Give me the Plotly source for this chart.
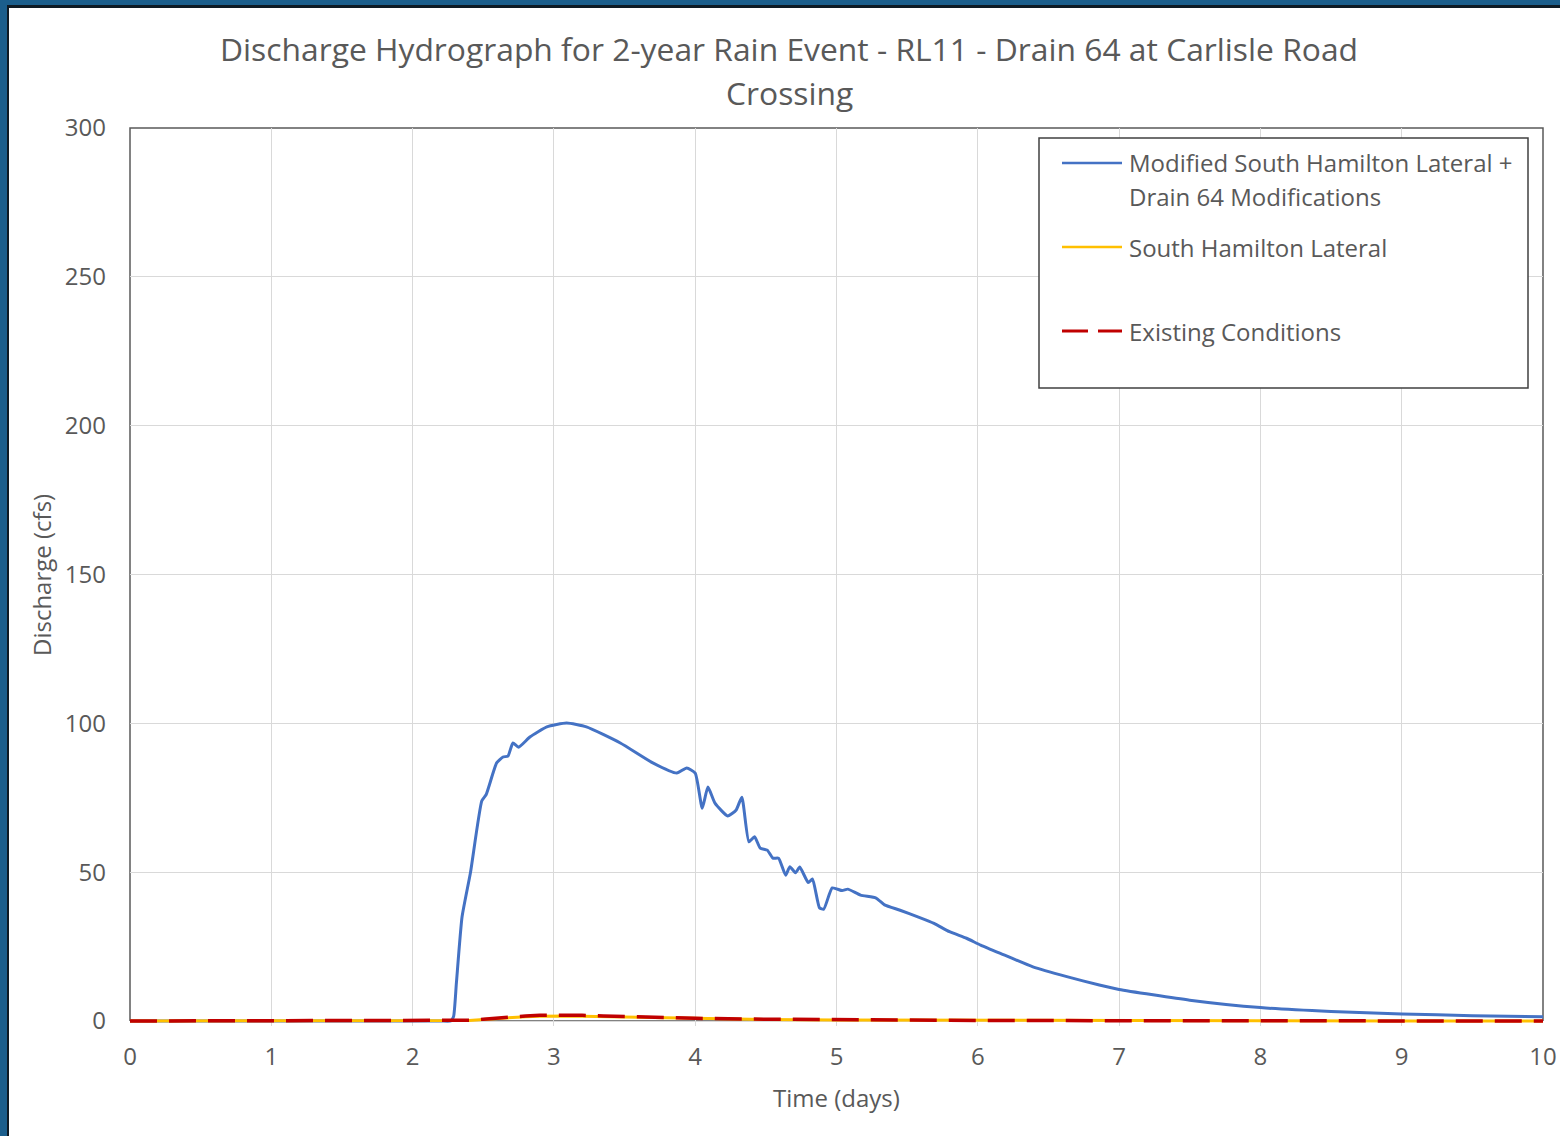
import plotly.graph_objects as go

# Time (days) and discharge (cfs) for each scenario
t_modified = [0, 1.0, 2.0, 2.2, 2.27, 2.29, 2.31, 2.35, 2.41, 2.49, 2.52, 2.595, 2.64, 2.675,
              2.71, 2.75, 2.83, 2.95, 3.09, 3.23, 3.47, 3.70, 3.87, 3.94, 4.00, 4.05,
              4.09, 4.14, 4.23, 4.29, 4.33, 4.38, 4.42, 4.46, 4.51, 4.55, 4.59, 4.64,
              4.67, 4.71, 4.74, 4.80, 4.83, 4.88, 4.91, 4.97, 5.04, 5.08, 5.17, 5.28,
              5.34, 5.45, 5.58, 5.69, 5.80, 5.92, 6.02, 6.16, 6.39, 6.63, 6.86, 7.0,
              7.5, 8.0, 8.5, 9.0, 9.5, 10]
q_modified = [0, 0, 0, 0, 0, 1.5, 12.8, 35, 50, 74, 76, 86.7, 88.7, 89,
              93.4, 92, 95.4, 98.8, 100.1, 98.8, 93.4, 86.7, 83.3, 85, 83.3, 71.5,
              78.6, 73.2, 68.9, 70.9, 75.2, 60.2, 61.9, 58.1, 57.4, 54.7, 54.7, 49,
              51.8, 49.8, 51.7, 46.5, 47.7, 38, 37.6, 44.7, 43.8, 44.3, 42.3, 41.3,
              39, 37.2, 34.9, 32.8, 30, 27.8, 25.5, 22.7, 18.2, 14.9, 12.1, 10.6,
              7.0, 4.5, 3.2, 2.35, 1.8, 1.45]

t_lateral = [0, 2.3, 2.4, 2.5, 2.6, 2.7, 2.8, 2.9, 3.0, 3.1, 3.2, 3.35, 3.5, 3.75, 4.0,
             4.5, 5.0, 6.0, 7.0, 8.0, 9.0, 10]
q_lateral = [0, 0, 0.2, 0.5, 0.9, 1.2, 1.45, 1.6, 1.7, 1.7, 1.6, 1.45, 1.3, 1.05, 0.8,
             0.5, 0.35, 0.2, 0.1, 0.05, 0.02, 0]

t_existing = [0, 2.3, 2.4, 2.5, 2.6, 2.7, 2.8, 2.9, 3.0, 3.1, 3.2, 3.35, 3.5, 3.75, 4.0,
              4.5, 5.0, 6.0, 7.0, 8.0, 9.0, 10]
q_existing = [0, 0, 0.25, 0.6, 1.05, 1.4, 1.7, 1.9, 2.0, 2.0, 1.9, 1.7, 1.5, 1.2, 0.9,
              0.6, 0.4, 0.2, 0.1, 0.05, 0.02, 0]

series_names = ["Modified South Hamilton Lateral +", "South Hamilton Lateral",
                "Existing Conditions"]
series_name_cont = "Drain 64 Modifications"

x_ticks = [0, 1, 2, 3, 4, 5, 6, 7, 8, 9, 10]
y_ticks = [0, 50, 100, 150, 200, 250, 300]
X_MAX, Y_MAX = 10, 300

BLUE = "#4472C4"
GOLD = "#FFC000"
RED = "#C00000"
TEXT = "#595959"
FONT = "Open Sans"

W, H = 1560, 1136
L, R, T, B0 = 130, 1543, 128, 1021   # plot-area edges in pixels (B0 = y of zero)
B = 1026                             # extend a few pixels so the zero-line traces are not clipped
y_min = -(B - B0) * Y_MAX / (B0 - T)


def px(x):
    return (x - L) / (R - L)


def py(y):
    return (B - y) / (B - T)


fig = go.Figure()
fig.add_trace(go.Scatter(x=t_modified, y=q_modified, mode="lines",
                         line=dict(color=BLUE, width=3, shape="spline", smoothing=0.5),
                         name=series_names[0] + " " + series_name_cont, showlegend=False))
fig.add_trace(go.Scatter(x=t_lateral, y=q_lateral, mode="lines",
                         line=dict(color=GOLD, width=3),
                         name=series_names[1], showlegend=False))
fig.add_trace(go.Scatter(x=t_existing, y=q_existing, mode="lines",
                         line=dict(color=RED, width=3.5, dash="27px,12px"),
                         name=series_names[2], showlegend=False))

shapes = []
annotations = []

# plot-area border (left, top, right drawn with paper refs; bottom sits on the zero line)
shapes.append(dict(type="path", xref="paper", yref="paper",
                   path=f"M 0,{py(B0)} L 0,1 L 1,1 L 1,{py(B0)}",
                   line=dict(color="#595959", width=1.5), layer="between"))
shapes.append(dict(type="line", xref="paper", yref="paper", x0=0, x1=1, y0=py(B0), y1=py(B0),
                   line=dict(color="#595959", width=1.5), layer="between"))

# slide frame at the top and left edges
shapes += [
    dict(type="rect", xref="paper", yref="paper", x0=px(0), x1=px(W + 10), y0=py(0), y1=py(5),
         fillcolor="#1B5E8C", line=dict(width=0), layer="above"),
    dict(type="rect", xref="paper", yref="paper", x0=px(7), x1=px(W + 10), y0=py(5), y1=py(8),
         fillcolor="#0E1A24", line=dict(width=0), layer="above"),
    dict(type="rect", xref="paper", yref="paper", x0=px(0), x1=px(7), y0=py(0), y1=py(H + 10),
         fillcolor="#1B5E8C", line=dict(width=0), layer="above"),
    dict(type="rect", xref="paper", yref="paper", x0=px(7), x1=px(9), y0=py(5), y1=py(H + 10),
         fillcolor="#0E1A24", line=dict(width=0), layer="above"),
]

# legend box
shapes.append(dict(type="rect", xref="paper", yref="paper",
                   x0=px(1039), x1=px(1528), y0=py(138), y1=py(388),
                   fillcolor="white", line=dict(color="#404040", width=1.5), layer="above"))
legend_rows = [(163, BLUE, "solid", series_names[0]),
               (247, GOLD, "solid", series_names[1]),
               (331, RED, "dash", series_names[2])]
for y_row, col, style, label in legend_rows:
    if style == "solid":
        shapes.append(dict(type="line", xref="paper", yref="paper",
                           x0=px(1062), x1=px(1122), y0=py(y_row), y1=py(y_row),
                           line=dict(color=col, width=2.5), layer="above"))
    else:
        for a, b in [(1062, 1088), (1098, 1122)]:
            shapes.append(dict(type="line", xref="paper", yref="paper",
                               x0=px(a), x1=px(b), y0=py(y_row), y1=py(y_row),
                               line=dict(color=col, width=3), layer="above"))
    annotations.append(dict(xref="paper", yref="paper", x=px(1127), y=py(y_row),
                            xanchor="left", yanchor="middle", align="left", showarrow=False,
                            text=label, font=dict(family=FONT, size=24, color=TEXT)))
annotations.append(dict(xref="paper", yref="paper", x=px(1127), y=py(197),
                        xanchor="left", yanchor="middle", align="left", showarrow=False,
                        text=series_name_cont, font=dict(family=FONT, size=24, color=TEXT)))

# chart title
annotations.append(dict(xref="paper", yref="paper", x=px(789), y=py(48),
                        xanchor="center", yanchor="middle", showarrow=False,
                        text="Discharge Hydrograph for 2-year Rain Event - RL11 - Drain 64 at Carlisle Road",
                        font=dict(family=FONT, size=31.8, color=TEXT)))
annotations.append(dict(xref="paper", yref="paper", x=px(789), y=py(92),
                        xanchor="center", yanchor="middle", showarrow=False,
                        text="Crossing", font=dict(family=FONT, size=31.8, color=TEXT)))

# axis titles
annotations.append(dict(xref="paper", yref="paper", x=px(836), y=py(1097),
                        xanchor="center", yanchor="middle", showarrow=False,
                        text="Time (days)", font=dict(family=FONT, size=24, color=TEXT)))
annotations.append(dict(xref="paper", yref="paper", x=px(41), y=py(575),
                        xanchor="center", yanchor="middle", showarrow=False, textangle=-90,
                        text="Discharge (cfs)", font=dict(family=FONT, size=24, color=TEXT)))

fig.update_layout(
    width=W, height=H,
    margin=dict(l=L, r=W - R, t=T, b=H - B, pad=0, autoexpand=False),
    paper_bgcolor="white", plot_bgcolor="white",
    font=dict(family=FONT, color=TEXT),
    shapes=shapes, annotations=annotations,
    showlegend=False,
)
fig.update_xaxes(range=[0, X_MAX], tickvals=x_ticks, ticktext=[str(v) for v in x_ticks],
                 showgrid=True, gridcolor="#D9D9D9", gridwidth=1,
                 showline=False, zeroline=False, ticks="", ticklabelstandoff=14,
                 ticklabeloverflow="allow", automargin=False,
                 tickfont=dict(family=FONT, size=24, color=TEXT))
fig.update_yaxes(range=[y_min, Y_MAX], tickvals=y_ticks, ticktext=[str(v) for v in y_ticks],
                 showgrid=True, gridcolor="#D9D9D9", gridwidth=1,
                 showline=False, zeroline=False, ticks="", ticklabelstandoff=23,
                 automargin=False,
                 tickfont=dict(family=FONT, size=24, color=TEXT))

fig.write_html("out.html")
